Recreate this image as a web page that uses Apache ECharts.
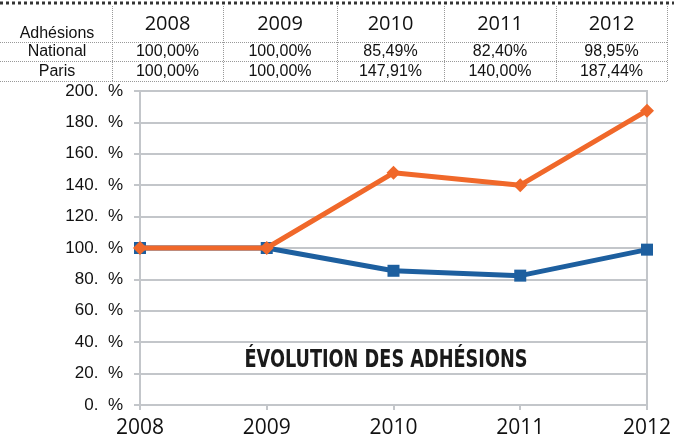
<!DOCTYPE html>
<html>
<head>
<meta charset="utf-8">
<script src="https://cdn.jsdelivr.net/npm/echarts@6/dist/echarts.min.js"></script>
<style>
html,body{margin:0;padding:0;background:#fff;}
#main{width:674px;height:439px;}
</style>
</head>
<body>
<div id="main"></div>
<script>
var years = ['2008', '2009', '2010', '2011', '2012'];
var national = [100.00, 100.00, 85.49, 82.40, 98.95];
var paris = [100.00, 100.00, 147.91, 140.00, 187.44];
var tableHeader = 'Adhésions';
var rowLabels = ['National', 'Paris'];
var nationalText = ['100,00%', '100,00%', '85,49%', '82,40%', '98,95%'];
var parisText = ['100,00%', '100,00%', '147,91%', '140,00%', '187,44%'];
var chartTitle = 'ÉVOLUTION DES ADHÉSIONS';

var chart = echarts.init(document.getElementById('main'), null, {renderer: 'canvas'});

// table layout
var colX = [0, 112, 223, 337, 444, 556, 667];
var g = [];
// heavy dotted top line
g.push({type: 'line', shape: {x1: 0, y1: 3, x2: 674, y2: 3},
  style: {stroke: '#333', lineWidth: 3, lineDash: [3, 3]}});
// horizontal light dotted lines
[42, 61, 81].forEach(function (y) {
  g.push({type: 'line', shape: {x1: 0, y1: y + 0.5, x2: 667, y2: y + 0.5},
    style: {stroke: '#999', lineWidth: 1, lineDash: [1, 1]}});
});
// vertical dotted lines
for (var i = 1; i < colX.length; i++) {
  g.push({type: 'line', shape: {x1: colX[i] + 0.5, y1: 6, x2: colX[i] + 0.5, y2: 81},
    style: {stroke: '#999', lineWidth: 1, lineDash: [1, 1]}});
}
var txtFont = '"Liberation Sans", Arial, sans-serif';
g.push({type: 'text', x: 57, y: 34, style: {text: tableHeader, font: '16px ' + txtFont,
  fill: '#111', align: 'center', verticalAlign: 'middle'}});
g.push({type: 'text', x: 57, y: 52, style: {text: rowLabels[0], font: '16px ' + txtFont,
  fill: '#111', align: 'center', verticalAlign: 'middle'}});
g.push({type: 'text', x: 57, y: 72, style: {text: rowLabels[1], font: '16px ' + txtFont,
  fill: '#111', align: 'center', verticalAlign: 'middle'}});
for (var j = 0; j < years.length; j++) {
  var cx = (colX[j + 1] + colX[j + 2]) / 2;
  g.push({type: 'text', x: cx, y: 24, style: {text: years[j], font: '20px "Open Sans", ' + txtFont,
    fill: '#111', align: 'center', verticalAlign: 'middle'}});
  g.push({type: 'text', x: cx, y: 52, style: {text: nationalText[j], font: '16px ' + txtFont,
    fill: '#111', align: 'center', verticalAlign: 'middle'}});
  g.push({type: 'text', x: cx, y: 72, style: {text: parisText[j], font: '16px ' + txtFont,
    fill: '#111', align: 'center', verticalAlign: 'middle'}});
}
// chart title inside plot
g.push({type: 'text', x: 386, y: 361, scaleX: 0.82, z: 10, style: {text: chartTitle,
  font: 'bold 24px "DejaVu Sans Condensed", "DejaVu Sans", sans-serif',
  fill: '#1a1a1a', align: 'center', verticalAlign: 'middle'}});

var gridColor = '#c3c6ca';

chart.setOption({
  animation: false,
  backgroundColor: '#fff',
  grid: {left: 140, right: 24, top: 91, bottom: 33, show: true, borderColor: gridColor, borderWidth: 2},
  xAxis: {
    type: 'category', data: years, boundaryGap: false,
    axisLine: {show: true, lineStyle: {color: gridColor, width: 2}},
    axisTick: {show: true, length: 5, alignWithLabel: true, lineStyle: {color: gridColor, width: 2}},
    axisLabel: {color: '#111', fontSize: 21, margin: 13, fontFamily: '"Open Sans", "Liberation Sans", sans-serif'},
    splitLine: {show: false}
  },
  yAxis: {
    type: 'value', min: 0, max: 200, interval: 20,
    axisLine: {show: true, lineStyle: {color: gridColor, width: 2}},
    axisTick: {show: true, length: 6, lineStyle: {color: gridColor, width: 2}},
    axisLabel: {color: '#111', fontSize: 17, margin: 17, fontFamily: '"Liberation Sans", Arial, sans-serif',
      formatter: function (v) { return v + '.  %'; }},
    splitLine: {show: true, lineStyle: {color: gridColor, width: 2}}
  },
  series: [
    {name: 'National', type: 'line', data: national, symbol: 'rect', symbolSize: 12,
      lineStyle: {color: '#1d5f9f', width: 5}, itemStyle: {color: '#1d5f9f'}, z: 3},
    {name: 'Paris', type: 'line', data: paris, symbol: 'diamond', symbolSize: 14,
      lineStyle: {color: '#f0682a', width: 5}, itemStyle: {color: '#f0682a'}, z: 4}
  ],
  graphic: g
});
</script>
</body>
</html>
